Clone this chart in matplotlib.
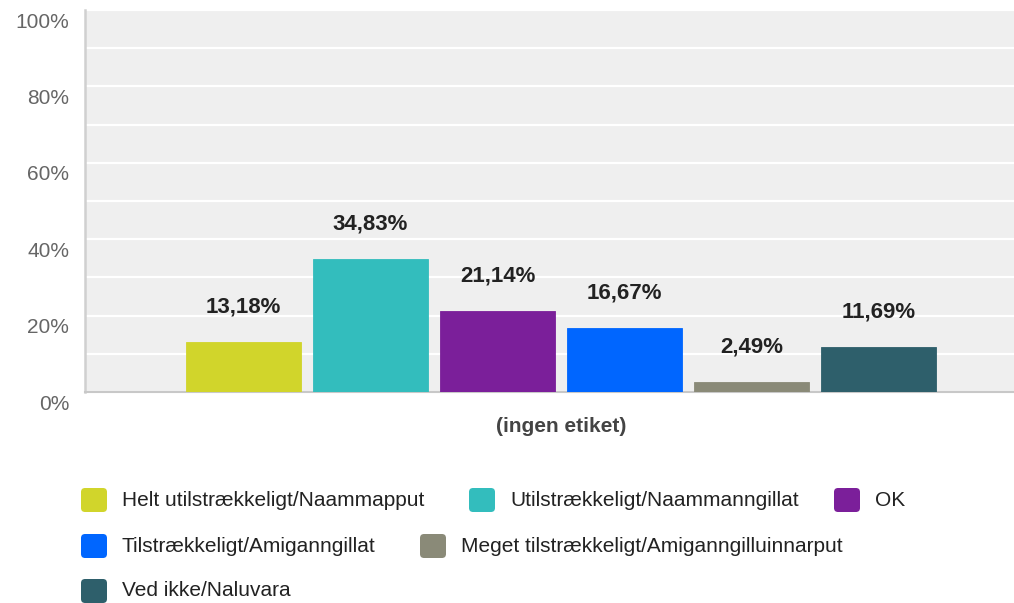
import matplotlib
matplotlib.use("Agg")
import matplotlib.pyplot as plt
from matplotlib.patches import FancyBboxPatch
from matplotlib.transforms import ScaledTranslation
import numpy as np

plt.rcParams['font.family'] = ['Liberation Sans', 'DejaVu Sans']

# ---- data ----
categories = ["Helt utilstrækkeligt/Naammapput",
              "Utilstrækkeligt/Naammanngillat",
              "OK",
              "Tilstrækkeligt/Amiganngillat",
              "Meget tilstrækkeligt/Amiganngilluinnarput",
              "Ved ikke/Naluvara"]
values = [13.18, 34.83, 21.14, 16.67, 2.49, 11.69]
value_labels = ["13,18%", "34,83%", "21,14%", "16,67%", "2,49%", "11,69%"]
group_label = "(ingen etiket)"
ytick_values = [0, 20, 40, 60, 80, 100]
ytick_labels = ["0%", "20%", "40%", "60%", "80%", "100%"]

# ---- style ----
colors = ["#d1d52b", "#33bdbd", "#7b1f9a", "#0066ff", "#8a8a78", "#2e5f6b"]

W, H = 1014, 603
DPI = 100
fig = plt.figure(figsize=(W / DPI, H / DPI), dpi=DPI)

# axes in pixel layout (extends past right edge like reference)
ax_left, ax_right, ax_top, ax_bottom = 85, 1037, 10, 392
ax = fig.add_axes([ax_left / W, 1 - ax_bottom / H,
                   (ax_right - ax_left) / W, (ax_bottom - ax_top) / H])
ax.set_facecolor("#efefef")

x = np.arange(len(values))
bars = ax.bar(x, values, width=0.905, color=colors, zorder=3)
for b, c in zip(bars, colors):
    b.set_edgecolor(c)
    b.set_linewidth(0.6)

span = (ax_right - ax_left) / 127.0
ax.set_xlim(2.5 - span / 2, 2.5 + span / 2)
ax.set_ylim(0, 100)

# gridlines every 10%
ax.set_yticks(ytick_values)
ax.set_yticklabels(ytick_labels)
ax.set_yticks(np.arange(10, 100, 20), minor=True)
ax.yaxis.grid(True, which="both", color="white", linewidth=1.6, zorder=1)
ax.set_axisbelow(True)
ax.tick_params(axis="y", which="both", length=0, pad=11.5, labelsize=15,
               labelcolor="#666666")
off = ScaledTranslation(0, -0.10, fig.dpi_scale_trans)
for lab in ax.get_yticklabels():
    lab.set_transform(lab.get_transform() + off)

ax.set_xticks([2.5])
ax.set_xticklabels([group_label], fontweight="bold", color="#444444",
                   fontsize=15)
ax.tick_params(axis="x", length=0, pad=18)

for s in ["top", "right"]:
    ax.spines[s].set_visible(False)
ax.spines["left"].set_color("#d0d0d0")
ax.spines["left"].set_linewidth(1.8)
ax.spines["bottom"].set_color("#c8c8c8")
ax.spines["bottom"].set_linewidth(1.5)

for xi, v, lab in zip(x, values, value_labels):
    ax.annotate(lab, (xi, v), xytext=(0, 25.2), textcoords="offset points",
                ha="center", va="center", fontsize=16, fontweight="bold",
                color="#222222", zorder=4)

# ---- legend (flow layout like reference) ----
legend_pos = [(81, 500), (469, 500), (834, 500),
              (81, 546), (420, 546),
              (81, 591)]
sw_w, sw_h = 26, 24
for (lx, ly), c, name in zip(legend_pos, colors, categories):
    p = FancyBboxPatch(((lx) / W, 1 - (ly + sw_h / 2) / H),
                       sw_w / W, sw_h / H,
                       boxstyle="round,pad=0,rounding_size=0.004",
                       transform=fig.transFigure, facecolor=c,
                       edgecolor="none", mutation_aspect=W / H)
    fig.add_artist(p)
    fig.text((lx + 41) / W, 1 - ly / H, name, ha="left", va="center",
             fontsize=15, color="#222222")

fig.savefig("out.png", dpi=DPI)
